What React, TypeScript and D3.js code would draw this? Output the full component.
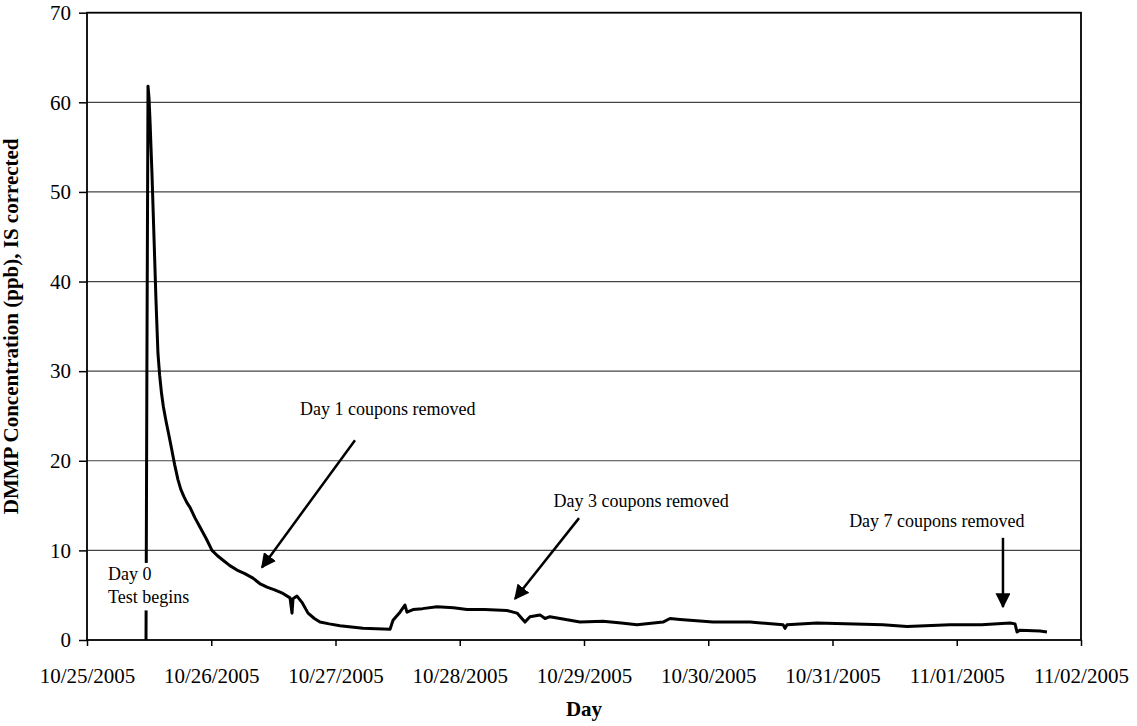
import React, { useEffect, useRef } from 'react';
import * as d3 from 'd3';

// days elapsed since 10/25/2005 00:00 and the IS-corrected DMMP reading (ppb)
const dayOffsets = [
  0.475, 0.482, 0.491, 0.499, 0.507, 0.523, 0.539, 0.555, 0.571, 0.585, 0.6, 0.615,
  0.635, 0.66, 0.68, 0.705, 0.732, 0.755, 0.78, 0.805, 0.829, 0.87, 0.909, 0.96,
  1.006, 1.05, 1.095, 1.15, 1.207, 1.27, 1.336, 1.39, 1.449, 1.51, 1.577, 1.634,
  1.65, 1.658, 1.69, 1.73, 1.779, 1.83, 1.875, 1.95, 2.036, 2.221, 2.439, 2.463,
  2.519, 2.559, 2.575, 2.624, 2.7, 2.817, 2.95, 3.058, 3.2, 3.38, 3.461, 3.525,
  3.565, 3.646, 3.686, 3.726, 3.807, 3.968, 4.153, 4.3, 4.427, 4.636, 4.692, 4.773,
  5.038, 5.336, 5.602, 5.618, 5.634, 5.875, 6.406, 6.6, 6.946, 7.2, 7.429, 7.469,
  7.485, 7.509, 7.67, 7.726,
];
const ppb = [
  0, 30, 61.8, 60.5, 58, 52, 45, 38, 32, 29.5, 27.5, 26,
  24.5, 22.8, 21.4, 19.6, 17.9, 16.8, 16, 15.3, 14.8, 13.6, 12.6, 11.3,
  10, 9.4, 8.9, 8.3, 7.8, 7.4, 6.9, 6.3, 5.9, 5.6, 5.2, 4.7,
  3.0, 4.6, 4.9, 4.2, 3.0, 2.4, 2.0, 1.8, 1.6, 1.3, 1.2, 2.2,
  3.1, 3.9, 3.1, 3.4, 3.5, 3.7, 3.6, 3.4, 3.4, 3.3, 3.0, 2.0,
  2.6, 2.8, 2.4, 2.6, 2.4, 2.0, 2.1, 1.9, 1.7, 2.0, 2.4, 2.3,
  2.0, 2.0, 1.7, 1.3, 1.7, 1.9, 1.7, 1.5, 1.7, 1.7, 1.9, 1.8,
  0.9, 1.1, 1.0, 0.9,
];

const yTicks = [0, 10, 20, 30, 40, 50, 60, 70];
const tickDates = ['10/25/2005', '10/26/2005', '10/27/2005', '10/28/2005', '10/29/2005',
  '10/30/2005', '10/31/2005', '11/01/2005', '11/02/2005'];

// annotations: text, label anchor (day, value), arrow from / to (day, value)
const notes = [
  { text: 'Day 1 coupons removed', at: [2.42, 25.1], from: [2.157, 22.3], to: [1.408, 8.1] },
  { text: 'Day 3 coupons removed', at: [4.46, 14.8], from: [3.96, 13.6], to: [3.445, 4.6] },
  { text: 'Day 7 coupons removed', at: [6.84, 12.6], from: [7.372, 11.4], to: [7.372, 3.7] },
];

const DAY = 86400000;
const start = Date.UTC(2005, 9, 25);
const toDate = (d: number) => new Date(start + d * DAY);
const parseTick = d3.utcParse('%m/%d/%Y');

function drawChart(el: SVGSVGElement) {
  const W = 1137, H = 726;
  const m = { left: 87, right: 1081, top: 12.7, bottom: 640 };
  const svg = d3.select(el).attr('width', W).attr('height', H);
  svg.selectAll('*').remove();

  const x = d3.scaleUtc()
    .domain([parseTick(tickDates[0])!, parseTick(tickDates[tickDates.length - 1])!])
    .range([m.left, m.right]);
  const y = d3.scaleLinear().domain([0, 70]).range([m.bottom, m.top]);

  const serif = 'Liberation Serif, Times New Roman, serif';

  // gridlines
  svg.append('g').selectAll('line')
    .data(yTicks.slice(1, -1))
    .enter().append('line')
    .attr('x1', m.left).attr('x2', m.right)
    .attr('y1', d => y(d)).attr('y2', d => y(d))
    .attr('stroke', '#444').attr('stroke-width', 1.2);

  // y axis
  const yAxis = svg.append('g')
    .attr('transform', `translate(${m.left},0)`)
    .call(d3.axisLeft(y).tickValues(yTicks).tickSize(8).tickPadding(8).tickSizeOuter(0));
  yAxis.select('.domain').remove();
  yAxis.selectAll('line').attr('stroke', '#000').attr('stroke-width', 1.5);
  yAxis.selectAll('text').attr('font-family', serif).attr('font-size', 21).attr('fill', '#000');

  // x axis
  const xAxis = svg.append('g')
    .attr('transform', `translate(0,${m.bottom})`)
    .call(d3.axisBottom(x)
      .tickValues(tickDates.map(t => parseTick(t)!))
      .tickFormat(d3.utcFormat('%m/%d/%Y') as any)
      .tickSize(6).tickPadding(22).tickSizeOuter(0));
  xAxis.select('.domain').remove();
  xAxis.selectAll('line').attr('stroke', '#000').attr('stroke-width', 1.5);
  xAxis.selectAll('text').attr('font-family', serif).attr('font-size', 21).attr('fill', '#000');

  // plot frame
  svg.append('rect')
    .attr('x', m.left).attr('y', m.top)
    .attr('width', m.right - m.left).attr('height', m.bottom - m.top)
    .attr('fill', 'none').attr('stroke', '#000').attr('stroke-width', 1.8);

  // data line
  const pts = dayOffsets.map((d, i) => [d, ppb[i]] as [number, number]);
  const line = d3.line<[number, number]>()
    .x(d => x(toDate(d[0])))
    .y(d => y(d[1]));
  svg.append('path')
    .datum(pts)
    .attr('d', line)
    .attr('fill', 'none')
    .attr('stroke', '#000')
    .attr('stroke-width', 3)
    .attr('stroke-linejoin', 'round');

  // day 0 label with white box
  const d0x = x(toDate(0.169));
  svg.append('rect')
    .attr('x', d0x - 3).attr('y', y(8.6))
    .attr('width', 94).attr('height', y(3.3) - y(8.6))
    .attr('fill', '#fff');
  svg.append('text').attr('x', d0x).attr('y', y(6.7))
    .attr('font-family', serif).attr('font-size', 18).text('Day 0');
  svg.append('text').attr('x', d0x).attr('y', y(4.1))
    .attr('font-family', serif).attr('font-size', 18).text('Test begins');

  // arrows
  const defs = svg.append('defs');
  defs.append('marker')
    .attr('id', 'arrowhead')
    .attr('viewBox', '0 0 10 10')
    .attr('refX', 9).attr('refY', 5)
    .attr('markerWidth', 6).attr('markerHeight', 6)
    .attr('markerUnits', 'strokeWidth')
    .attr('orient', 'auto')
    .append('path').attr('d', 'M0,0 L10,5 L0,10 z').attr('fill', '#000');

  const g = svg.append('g');
  notes.forEach(n => {
    g.append('line')
      .attr('x1', x(toDate(n.from[0]))).attr('y1', y(n.from[1]))
      .attr('x2', x(toDate(n.to[0]))).attr('y2', y(n.to[1]))
      .attr('stroke', '#000').attr('stroke-width', 2.5)
      .attr('marker-end', 'url(#arrowhead)');
    g.append('text')
      .attr('x', x(toDate(n.at[0]))).attr('y', y(n.at[1]))
      .attr('text-anchor', 'middle')
      .attr('font-family', serif).attr('font-size', 18)
      .text(n.text);
  });

  // axis titles
  svg.append('text')
    .attr('x', (m.left + m.right) / 2).attr('y', 716)
    .attr('text-anchor', 'middle')
    .attr('font-family', serif).attr('font-size', 21).attr('font-weight', 'bold')
    .text('Day');

  svg.append('text')
    .attr('transform', `translate(18,${(m.top + m.bottom) / 2}) rotate(-90)`)
    .attr('text-anchor', 'middle')
    .attr('font-family', serif).attr('font-size', 21).attr('font-weight', 'bold')
    .text('DMMP Concentration (ppb), IS corrected');
}

const App = () => {
  const ref = useRef<SVGSVGElement>(null);
  useEffect(() => {
    if (ref.current) drawChart(ref.current);
  }, []);
  return (
    <div style={{ position: 'absolute', left: 0, top: 0, background: '#fff' }}>
      <svg ref={ref} style={{ display: 'block' }}></svg>
    </div>
  );
};

export default App;
